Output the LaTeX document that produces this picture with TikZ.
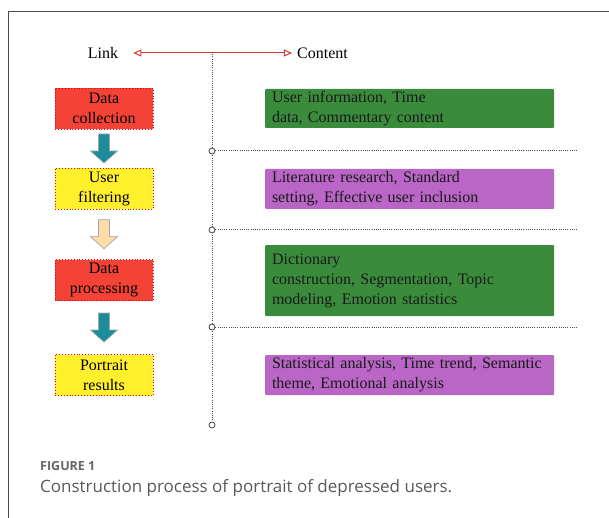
\documentclass[tikz,border=0pt]{standalone}
\usepackage{fontspec}
\setmainfont{Liberation Serif}
\newfontfamily\capfont{Open Sans}
\usepackage{tikz}
\usetikzlibrary{arrows.meta,calc,positioning}
\definecolor{boxred}{HTML}{F44336}
\definecolor{boxyellow}{HTML}{FFF02B}
\definecolor{boxgreen}{HTML}{3A8C3C}
\definecolor{boxpurple}{HTML}{B966C6}
\definecolor{arrteal}{HTML}{1A8C9B}
\definecolor{arrpeach}{HTML}{FDDCAA}
\definecolor{linkred}{HTML}{D23A3A}
\tikzset{
  linkbox/.style={draw=red!90!black, dotted, line width=0.9pt, minimum width=98pt,
    minimum height=41pt, inner sep=0pt, align=center, font=\fontsize{16}{20}\selectfont},
  contentbox/.style={rounded corners=1pt, text width=275pt, inner xsep=7pt, inner ysep=0pt,
    align=left, text=black!90, font=\fontsize{16}{20}\selectfont},
  blockarrow/.style={draw=gray!70, line width=0.7pt, line join=miter},
  downarrow/.pic={\path[pic actions] (-5.5,-14.5) -- (5.5,-14.5) -- (5.5,2.5) -- (13.5,2.5)
    -- (0,14.5) -- (-13.5,2.5) -- (-5.5,2.5) -- cycle;},
  guide/.style={gray!60!black, line width=1pt, dash pattern=on 0.9pt off 1.3pt},
  dot/.style={circle, draw=gray!70!black, fill=white, line width=0.9pt, inner sep=0pt, minimum size=6pt}
}
\begin{document}
\begin{tikzpicture}[x=1pt,y=-1pt]
\useasboundingbox (0,0) rectangle (609,518);
\draw [line width=1pt, black!70] (8,518)--(8,12)--(609,12);
% header
\node[inner sep=0pt, font=\fontsize{16}{20}\selectfont] (link) at (103,53) {Link};
\node[inner sep=0pt, font=\fontsize{16}{20}\selectfont] (content) at (322.5,53) {Content};
\draw [linkred, line width=1pt, {Triangle[open,length=8pt,width=7pt]}-{Triangle[open,length=8pt,width=7pt]},
  shorten <=15pt, shorten >=5pt] (link) -- (content);
% guide lines
\coordinate (vtop) at (212,52);
\node[dot] (d4) at (212,425) {};
\draw [guide] (vtop) -- (d4);
\node[dot] (d1) at (212,151) {};
\node[dot] (d2) at (212,230) {};
\node[dot] (d3) at (212,327) {};
\coordinate (e1) at (578,151);
\coordinate (e2) at (578,230);
\coordinate (e3) at (578,327);
\draw [guide] (d1) -- (e1);
\draw [guide] (d2) -- (e2);
\draw [guide] (d3) -- (e3);
% links
\node[linkbox, fill=boxred] (collect) at (104,108.5) {Data\\collection};
\node[linkbox, fill=boxyellow] (filter) at (104,188.5) {User\\filtering};
\node[linkbox, fill=boxred] (process) at (104,280) {Data\\processing};
\node[linkbox, fill=boxyellow] (result) at (104,375) {Portrait\\results};
\pic[blockarrow, fill=arrteal] (a1) at ($(collect.south)!0.5!(filter.north)$) {downarrow};
\pic[blockarrow, fill=arrpeach] (a2) at ($(filter.south)!0.5!(process.north)$) {downarrow};
\pic[blockarrow, fill=arrteal] (a3) at ($(process.south)!0.5!(result.north)$) {downarrow};
% contents
\node[contentbox, fill=boxgreen, minimum height=39pt] (info) at (409.5,108.5)
  {User information, Time\\data, Commentary content};
\node[contentbox, fill=boxpurple, minimum height=40pt] (lit) at (409.5,189)
  {Literature research, Standard\\setting, Effective user inclusion};
\node[contentbox, fill=boxgreen, minimum height=71pt] (dict) at (409.5,280.5)
  {Dictionary\\construction, Segmentation, Topic\\modeling, Emotion statistics};
\node[contentbox, fill=boxpurple, minimum height=40pt] (stat) at (409.5,375)
  {Statistical analysis, Time trend, Semantic\\theme, Emotional analysis};
% caption
\node[anchor=base west, inner sep=0pt, text=black!60, font=\capfont\bfseries\fontsize{12.5}{15}\selectfont] (fig) at (40,470) {FIGURE 1};
\node[anchor=base west, inner sep=0pt, text=black!65, font=\capfont\fontsize{17}{21}\selectfont] (cap) at (40,492) {Construction process of portrait of depressed users.};
\end{tikzpicture}
\end{document}
